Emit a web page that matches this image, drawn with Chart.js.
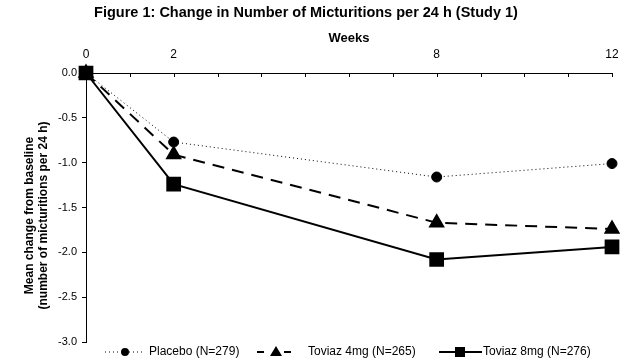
<!DOCTYPE html>
<html>
<head>
<meta charset="utf-8">
<script src="https://cdn.jsdelivr.net/npm/chart.js@4/dist/chart.umd.min.js"></script>
<style>
html,body{margin:0;padding:0;background:#fff;}
#wrap{width:630px;height:363px;position:relative;}
</style>
</head>
<body>
<div id="wrap"><canvas id="c" width="630" height="363"></canvas></div>
<script>
const weeks = [0, 2, 8, 12];
const weekTickLabels = [0, 2, 8, 12];
const placebo = [0, -0.77, -1.16, -1.01];
const toviaz4 = [0, -0.91, -1.67, -1.74];
const toviaz8 = [0, -1.24, -2.08, -1.94];
const seriesNames = ['Placebo (N=279)', 'Toviaz 4mg (N=265)', 'Toviaz 8mg (N=276)'];
const chartTitle = 'Figure 1: Change in Number of Micturitions per 24 h (Study 1)';
const xTitle = 'Weeks';
const yTitle = ['Mean change from baseline', '(number of micturitions per 24 h)'];

const FONT = 'Arial, "Liberation Sans", sans-serif';

function pts(vals){ return weeks.map((w,i)=>({x:w, y:vals[i]})); }

const topTicks = {
  id: 'topTicks',
  afterDraw(chart){
    const ctx = chart.ctx, xs = chart.scales.x, top = chart.chartArea.top;
    ctx.save();
    ctx.strokeStyle = '#000'; ctx.lineWidth = 1;
    for (let v = xs.min; v <= xs.max; v++) {
      const px = Math.round(xs.getPixelForValue(v)) + 0.5;
      ctx.beginPath(); ctx.moveTo(px, top); ctx.lineTo(px, top + 4); ctx.stroke();
    }
    ctx.restore();
  }
};

const yAxisTitle = {
  id: 'yAxisTitle',
  afterDraw(chart){
    const ctx = chart.ctx;
    const cy = (chart.chartArea.top + chart.chartArea.bottom) / 2 + 8;
    ctx.save();
    ctx.fillStyle = '#000';
    ctx.font = 'bold 12px ' + FONT;
    ctx.textAlign = 'center'; ctx.textBaseline = 'middle';
    ctx.translate(30, cy);
    ctx.rotate(-Math.PI / 2);
    yTitle.forEach((t, i) => ctx.fillText(t, 0, i * 14));
    ctx.restore();
  }
};

const customLegend = {
  id: 'customLegend',
  afterDraw(chart){
    const ctx = chart.ctx;
    const y = 352;
    const items = [
      {segs:[[105,145]], mx:125, tx:149, dash:[1,3], w:1, shape:'circle'},
      {segs:[[257,264],[284,291]], mx:276, tx:308, dash:[], w:2, shape:'triangle'},
      {segs:[[439,482]], mx:460, tx:483, dash:[], w:2, shape:'rect'}
    ];
    ctx.save();
    ctx.fillStyle = '#000'; ctx.strokeStyle = '#000';
    items.forEach((it, i) => {
      ctx.setLineDash(it.dash); ctx.lineWidth = it.w;
      it.segs.forEach(s => { ctx.beginPath(); ctx.moveTo(s[0], y); ctx.lineTo(s[1], y); ctx.stroke(); });
      ctx.setLineDash([]);
      ctx.beginPath();
      if (it.shape === 'circle') { ctx.arc(it.mx, y, 4, 0, Math.PI*2); }
      else if (it.shape === 'triangle') { ctx.moveTo(it.mx, y-6); ctx.lineTo(it.mx+6, y+4); ctx.lineTo(it.mx-6, y+4); ctx.closePath(); }
      else { ctx.rect(it.mx-5, y-5, 10, 10); }
      ctx.fill();
      ctx.font = '12px ' + FONT; ctx.textBaseline = 'middle'; ctx.textAlign = 'left';
      ctx.fillText(seriesNames[i], it.tx, y);
    });
    ctx.restore();
  }
};

new Chart(document.getElementById('c'), {
  type: 'line',
  data: {
    datasets: [
      {label: seriesNames[0], data: pts(placebo), borderColor:'#000', backgroundColor:'#000', borderWidth:1, borderDash:[1,3],
       pointStyle:'circle', pointRadius:5, pointHoverRadius:5, order:3, clip:false},
      {label: seriesNames[1], data: pts(toviaz4), borderColor:'#000', backgroundColor:'#000', borderWidth:2, borderDash:[12,8],
       pointStyle:'triangle', pointRadius:7.5, pointHoverRadius:7.5, order:2, clip:false},
      {label: seriesNames[2], data: pts(toviaz8), borderColor:'#000', backgroundColor:'#000', borderWidth:2,
       pointStyle:'rect', pointRadius:9, pointHoverRadius:9, order:1, clip:false}
    ]
  },
  options: {
    responsive: false,
    animation: false,
    layout: {padding: {top: 0, left: 0, right: 18, bottom: 21}},
    plugins: {
      legend: {display: false},
      tooltip: {enabled: false},
      title: {display: true, text: chartTitle, color:'#000', font:{family: FONT, size: 14.5, weight:'bold', lineHeight:1.2}, padding:{top:4, bottom:0}}
    },
    scales: {
      x: {
        type: 'linear', position: 'top', min: 0, max: 12,
        afterFit(s){ s.height = 51.6; },
        grid: {display: false},
        border: {display: true, color:'#000', width:1},
        ticks: {stepSize: 1, autoSkip: false, maxRotation: 0, color:'#000', padding: 3,
          font:{family: FONT, size: 12},
          callback: v => weekTickLabels.includes(v) ? String(v) : ''},
        title: {display: true, text: xTitle, color:'#000', font:{family: FONT, size: 13, weight:'bold', lineHeight:1.2}, padding:{top:8.8, bottom:0}}
      },
      y: {
        min: -3, max: 0,
        afterFit(s){ s.width = 86; },
        grid: {display: true, drawOnChartArea: false, drawTicks: true, tickLength: 4, color:'#000'},
        border: {display: true, color:'#000', width:1},
        ticks: {stepSize: 0.5, color:'#000', padding: 5, font:{family: FONT, size: 11},
          callback: v => Number(v).toFixed(1)},
        title: {display: false}
      }
    }
  },
  plugins: [topTicks, yAxisTitle, customLegend]
});
</script>
</body>
</html>
